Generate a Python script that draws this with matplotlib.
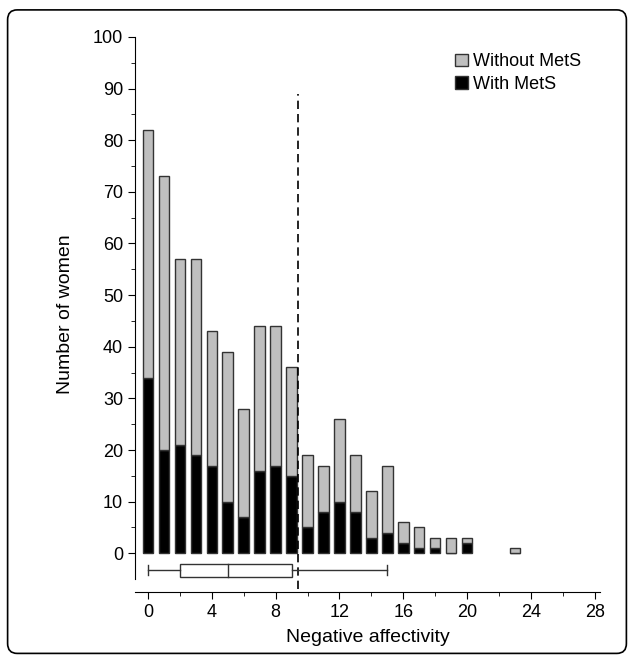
import matplotlib
matplotlib.use("Agg")
import matplotlib.pyplot as plt
from matplotlib.patches import FancyBboxPatch, Rectangle
import numpy as np

x = [0,1,2,3,4,5,6,7,8,9,10,11,12,13,14,15,16,17,18,19,20,23]
total = [82,73,57,57,43,39,28,44,44,36,19,17,26,19,12,17,6,5,3,3,3,1]
mets = [34,20,21,19,17,10,7,16,17,15,5,8,10,8,3,4,2,1,1,0,2,0]
without = [t-m for t,m in zip(total,mets)]
box_stats = dict(whislo=0, q1=2, med=5, q3=9, whishi=15)
cutoff = 9.4

plt.rcParams['font.family'] = ['Liberation Sans', 'DejaVu Sans']
fig = plt.figure(figsize=(6.34,6.6), dpi=100)
fig.patches.append(FancyBboxPatch((0.012,0.01),0.976,0.975,boxstyle="round,pad=0,rounding_size=0.015",
    transform=fig.transFigure, fill=False, ec='black', lw=1.2))
ax = fig.add_axes([0.213,0.103,0.733,0.841])
w=0.65
ax.bar(x, mets, width=w, color='black', edgecolor='#333333', lw=1, label='With MetS')
ax.bar(x, without, bottom=mets, width=w, color='#bfbfbf', edgecolor='#333333', lw=1, label='Without MetS')
ax.plot([cutoff,cutoff],[-7,89], color='black', ls=(0,(5,3)), lw=1.2)
ax.set_xlim(-0.8,28.3); ax.set_ylim(-7.5,100)
yb=-3.3; h=2.6
ax.plot([box_stats['whislo'],box_stats['q1']],[yb,yb],color='#333333',lw=1)
ax.plot([box_stats['q3'],box_stats['whishi']],[yb,yb],color='#333333',lw=1)
for v in (box_stats['whislo'],box_stats['whishi']):
    ax.plot([v,v],[yb-1,yb+1],color='#333333',lw=1)
ax.add_patch(Rectangle((box_stats['q1'],yb-h/2),box_stats['q3']-box_stats['q1'],h,fill=False,ec='#333333',lw=1))
ax.plot([box_stats['med']]*2,[yb-h/2,yb+h/2],color='#333333',lw=1)
ax.spines['top'].set_visible(False); ax.spines['right'].set_visible(False)
ax.spines['left'].set_bounds(-5,100)
ax.set_yticks(range(0,101,10)); ax.set_yticks(range(0,101,5),minor=True)
ax.set_xticks(range(0,29,4)); ax.set_xticks(range(0,29,2),minor=True)
ax.tick_params(labelsize=13, direction='out', length=5)
ax.tick_params(which='minor', length=3)
ax.set_xlabel('Negative affectivity', fontsize=14, labelpad=6)
ax.set_ylabel('Number of women', fontsize=14, labelpad=14)
h1,l1 = ax.get_legend_handles_labels()
ax.legend(h1[::-1], l1[::-1], loc='upper right', frameon=False, fontsize=13, handlelength=0.7, handleheight=0.7, handletextpad=0.3, labelspacing=0.3, bbox_to_anchor=(0.995,1.0))
fig.savefig('out.png', dpi=100)
